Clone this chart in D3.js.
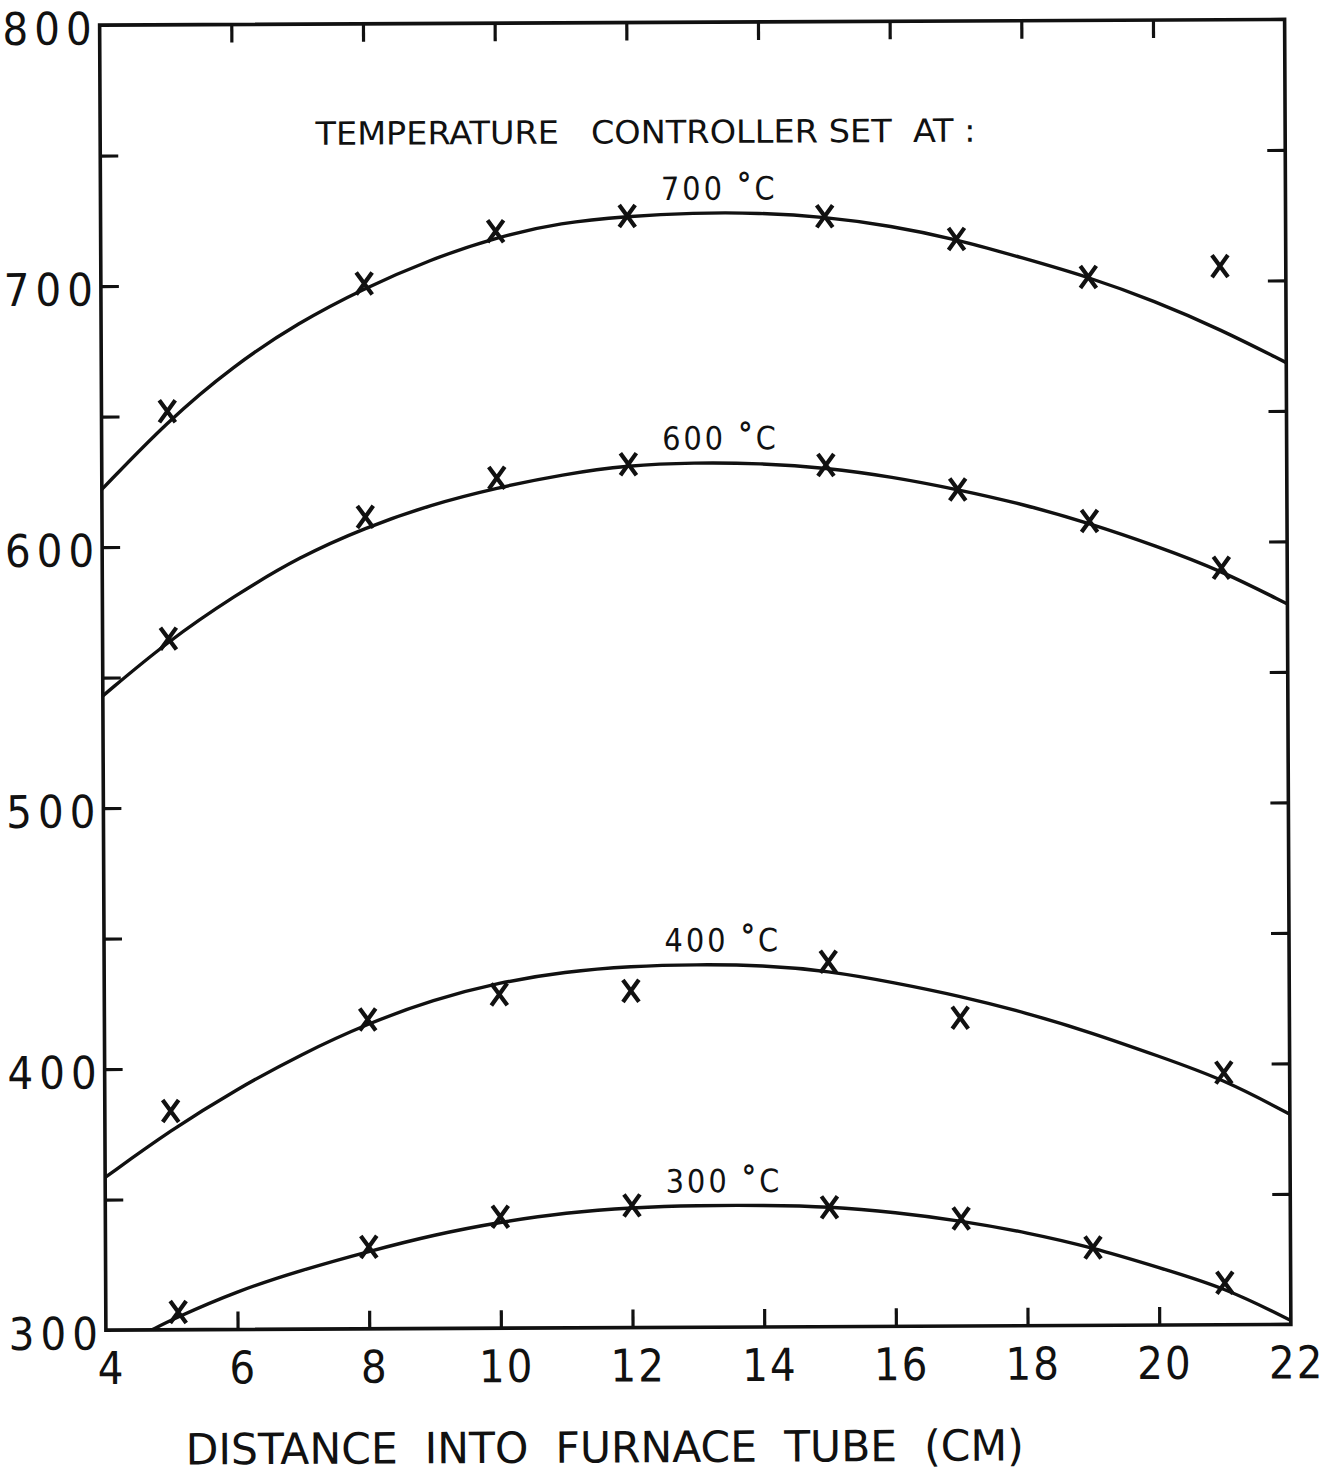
<!DOCTYPE html>
<html>
<head>
<meta charset="utf-8">
<script src="https://cdn.jsdelivr.net/npm/d3@7"></script>
<style>
  html, body { margin: 0; padding: 0; background: #fff; }
  svg { display: block; }
  text { font-family: "DejaVu Sans Condensed", "DejaVu Sans", sans-serif; font-stretch: condensed; fill: #111; }
</style>
</head>
<body>
<svg id="chart" width="1334" height="1475"></svg>
<script>
// Axial temperature profile in the furnace tube for four controller set points.

// Axis ticks
const xTickValues = [4, 6, 8, 10, 12, 14, 16, 18, 20, 22];
const yTickValues = [300, 350, 400, 450, 500, 550, 600, 650, 700, 750, 800];
const yLabelValues = [300, 400, 500, 600, 700, 800];

// Set-point captions
const setPointLabels = ["700", "600", "400", "300"];

// Measured points (distance in cm, temperature in °C)
const dist700 = [5, 8, 10, 12, 15, 17, 19, 21];
const temp700 = [651.9, 700.5, 720.3, 725.9, 725.4, 716.5, 701.7, 705.6];

const dist600 = [5, 8, 10, 12, 15, 17, 19, 21];
const temp600 = [564.8, 611.1, 625.8, 630.8, 630.1, 620.5, 608.2, 590];

const dist400 = [5, 8, 10, 12, 15, 17, 21];
const temp400 = [383.8, 418.5, 427.9, 429, 439.8, 418.1, 396.6];

const dist300 = [5.1, 8, 10, 12, 15, 17, 19, 21];
const temp300 = [306.8, 331.4, 342.7, 346.8, 345.7, 341.2, 329.8, 316.1];

// Smoothed profiles drawn through the measurements
const curveDist = [4, 5, 6, 7, 8, 9, 10, 11, 12, 13, 14, 15, 16, 17, 18, 19, 20, 21, 22];
const curve700 = [622.1, 648.1, 669.1, 685.7, 698.7, 709.5, 718, 723.5, 725.8, 727, 726.9, 725.2, 721.7, 716.4, 709.1, 701.7, 692.4, 681.4, 668.5];
const curve600 = [543, 564, 581, 596, 607, 615.7, 622, 627, 630.4, 631.3, 630.9, 629.1, 625.5, 620.5, 614.7, 607.3, 598.6, 588.9, 576];
const curve400 = [358.5, 376.5, 392, 405.5, 417, 426, 432.5, 436.5, 438.5, 439, 438.6, 436.3, 431.7, 426.4, 419.9, 412.1, 403.1, 394, 380.5];
const curveDist300 = [4.7, 5, 6, 7, 8, 9, 10, 11, 12, 13, 14, 15, 16, 17, 18, 19, 20, 21, 22];
const curve300 = [300, 303.9, 314.8, 322.8, 329.7, 336, 340.7, 344.2, 346, 346.7, 346.6, 346, 343.7, 340.3, 335.7, 329.8, 322, 314.2, 301.5];

const xTitle = "DISTANCE  INTO  FURNACE  TUBE  (CM)";
const noteText = "TEMPERATURE   CONTROLLER SET  AT :";

// ---------------------------------------------------------------
const ink = "#111";
const frame = { left: 102.75, right: 1287.75, top: 22.25, bottom: 1327.25 };

const svg = d3.select("#chart");
const root = svg.append("g")
  .attr("transform", `rotate(-0.275, ${(frame.left + frame.right) / 2}, ${(frame.top + frame.bottom) / 2})`);

const x = d3.scaleLinear().domain([4, 22]).range([frame.left, frame.right]);
const y = d3.scaleLinear().domain([300, 800]).range([frame.bottom, frame.top]);

const zip = (xs, ys) => xs.map((v, i) => [v, ys[i]]);
const series = [
  { label: setPointLabels[0], pts: zip(dist700, temp700), curve: zip(curveDist, curve700) },
  { label: setPointLabels[1], pts: zip(dist600, temp600), curve: zip(curveDist, curve600) },
  { label: setPointLabels[2], pts: zip(dist400, temp400), curve: zip(curveDist, curve400) },
  { label: setPointLabels[3], pts: zip(dist300, temp300), curve: zip(curveDist300, curve300) }
];

// Inward tick marks on all four sides
const tickLen = 18;
const inner = xTickValues.slice(1, -1);

function styleAxis(g) {
  g.select(".domain").remove();
  g.selectAll(".tick line").attr("stroke", ink).attr("stroke-width", 3.2);
}

root.append("g")
  .attr("transform", `translate(0,${frame.bottom})`)
  .call(d3.axisBottom(x).tickValues(xTickValues).tickSizeInner(-tickLen).tickSizeOuter(0).tickPadding(22).tickFormat(d3.format("d")))
  .call(styleAxis)
  .call(g => {
    g.selectAll(".tick").filter(d => d === 4 || d === 22).select("line").remove();
    g.selectAll(".tick text")
      .attr("font-size", 45)
      .attr("font-family", null)
      .attr("fill", ink)
      .attr("letter-spacing", 2)
      .attr("dx", 5);
  });

root.append("g")
  .attr("transform", `translate(0,${frame.top})`)
  .call(d3.axisTop(x).tickValues(inner).tickSizeInner(-tickLen).tickSizeOuter(0).tickFormat(""))
  .call(styleAxis);

root.append("g")
  .attr("transform", `translate(${frame.left},0)`)
  .call(d3.axisLeft(y).tickValues(yTickValues).tickSizeInner(-tickLen).tickSizeOuter(0).tickPadding(2)
    .tickFormat(d => yLabelValues.includes(d) ? String(d) : ""))
  .call(styleAxis)
  .call(g => {
    g.selectAll(".tick").filter(d => d === 300 || d === 800).select("line").remove();
    g.selectAll(".tick text")
      .attr("font-size", 45)
      .attr("font-family", null)
      .attr("fill", ink)
      .attr("letter-spacing", 6)
      .attr("dy", "0.42em");
  });

root.append("g")
  .attr("transform", `translate(${frame.right},0)`)
  .call(d3.axisRight(y).tickValues(yTickValues.slice(1, -1)).tickSizeInner(-tickLen).tickSizeOuter(0).tickFormat(""))
  .call(styleAxis);

// Frame
root.append("rect")
  .attr("x", frame.left).attr("y", frame.top)
  .attr("width", frame.right - frame.left).attr("height", frame.bottom - frame.top)
  .attr("fill", "none").attr("stroke", ink).attr("stroke-width", 3.6);

// Profiles
root.append("clipPath").attr("id", "plot-clip")
  .append("rect")
  .attr("x", frame.left).attr("y", frame.top)
  .attr("width", frame.right - frame.left).attr("height", frame.bottom - frame.top);

const line = d3.line()
  .x(d => x(d[0]))
  .y(d => y(d[1]))
  .curve(d3.curveBasis);

const plot = root.append("g").attr("clip-path", "url(#plot-clip)");

plot.selectAll("path.profile")
  .data(series)
  .join("path")
  .attr("class", "profile")
  .attr("d", d => line(d.curve))
  .attr("fill", "none")
  .attr("stroke", ink)
  .attr("stroke-width", 3.4)
  .attr("stroke-linejoin", "round");

// Measured points as X marks
const cross = "M-8,-11L8,11M8,-11L-8,11";
plot.selectAll("g.pts")
  .data(series)
  .join("g")
  .attr("class", "pts")
  .selectAll("path")
  .data(d => d.pts)
  .join("path")
  .attr("transform", d => `translate(${x(d[0])},${y(d[1])})`)
  .attr("d", cross)
  .attr("fill", "none")
  .attr("stroke", ink)
  .attr("stroke-width", 4.2);

// Set-point captions above each profile
const captionX = 13.4;
const captions = root.selectAll("text.caption")
  .data(series)
  .join("text")
  .attr("class", "caption")
  .attr("x", x(captionX))
  .attr("y", d => y(d3.max(d.curve, p => p[1])) - 13)
  .attr("text-anchor", "middle")
  .attr("font-size", 32)
  .attr("letter-spacing", 3);
captions.append("tspan").text(d => d.label + " ");
captions.append("tspan").attr("font-weight", "bold").attr("dy", -4).text("°");
captions.append("tspan").attr("dy", 4).text("C");

// Heading note
root.append("text")
  .attr("x", 318)
  .attr("y", 143)
  .attr("font-size", 32)
  .attr("textLength", 660)
  .attr("lengthAdjust", "spacingAndGlyphs")
  .style("white-space", "pre")
  .text(noteText);

// Axis title
root.append("text")
  .attr("x", 182)
  .attr("y", 1462)
  .attr("font-size", 43)
  .attr("textLength", 838)
  .attr("lengthAdjust", "spacingAndGlyphs")
  .style("white-space", "pre")
  .text(xTitle);
</script>
</body>
</html>
